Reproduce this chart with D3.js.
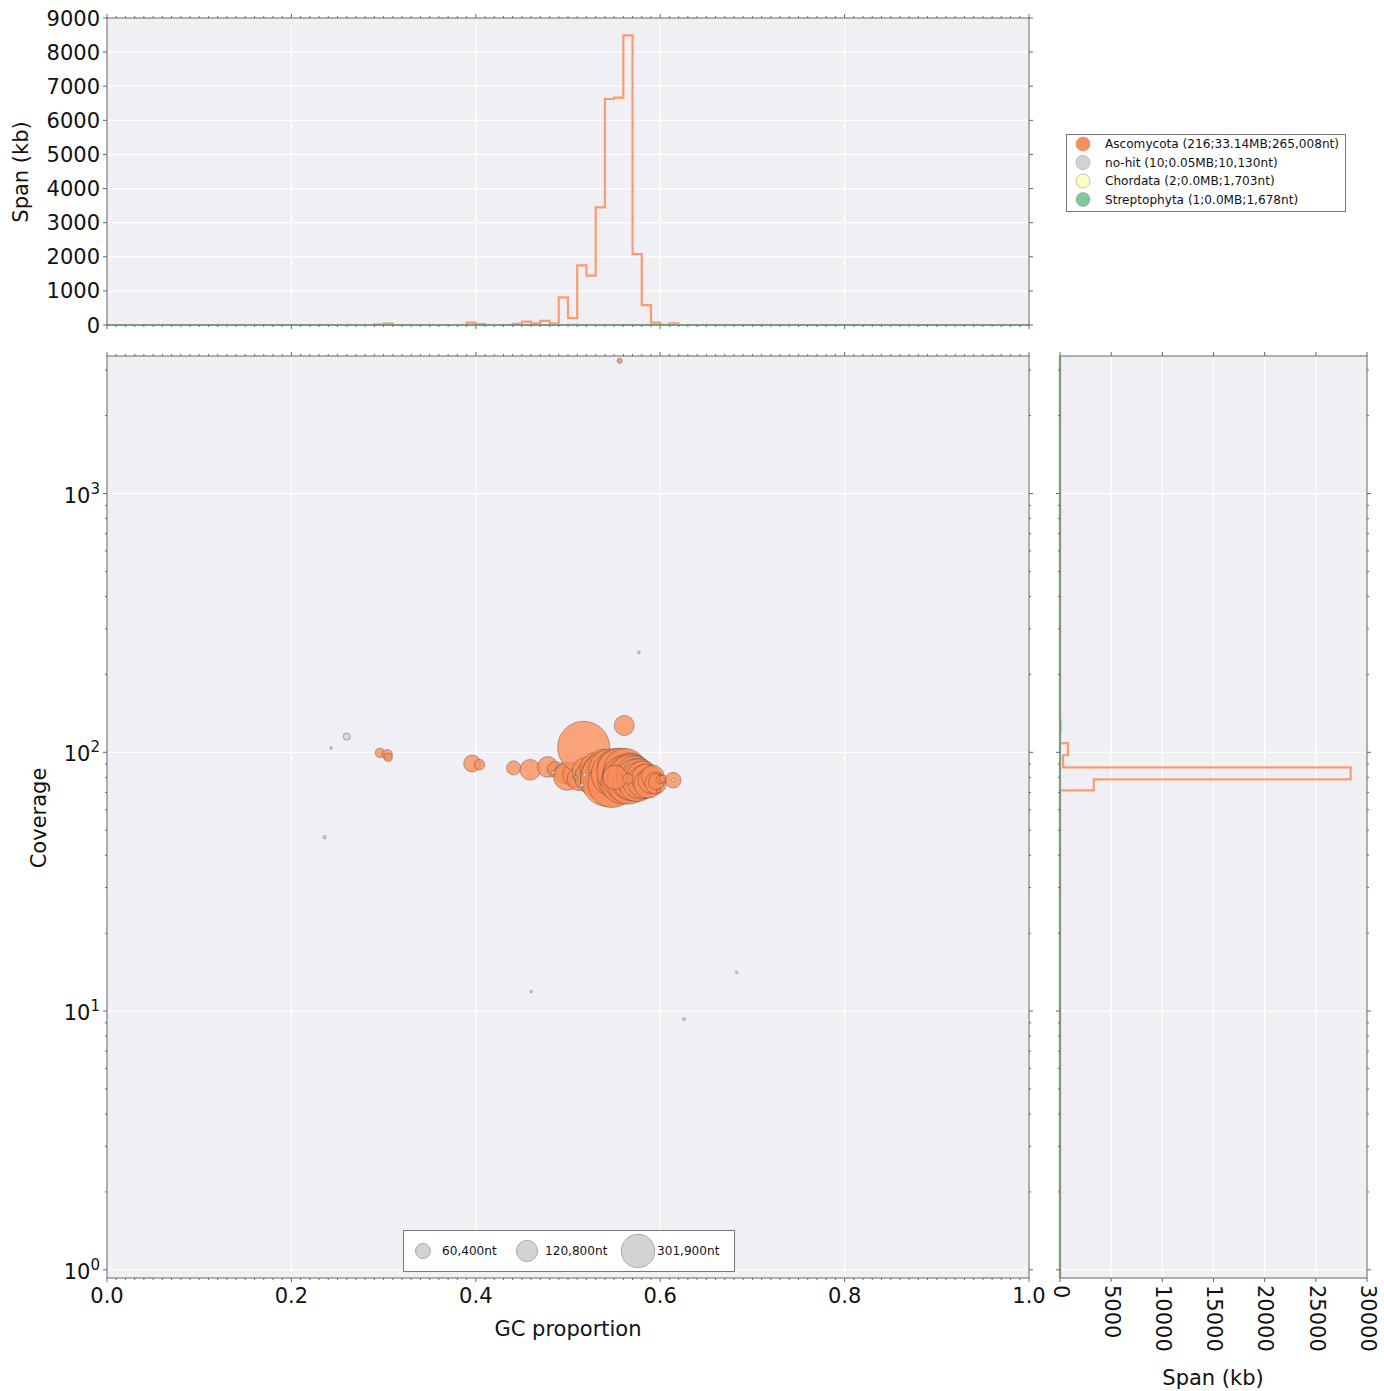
<!DOCTYPE html>
<html>
<head>
<meta charset="utf-8">
<script src="https://d3js.org/d3.v7.min.js"></script>
<style>
    body { margin: 0; background: #fff; }
    svg { font-family: "DejaVu Sans", sans-serif; }
    .grid line { stroke: #fff; stroke-width: 1.3; }
    .tick-lab { font-size: 21px; fill: #111; }
    .ax-lab { font-size: 21px; fill: #111; }
    .leg { font-size: 12.1px; fill: #111; }
</style>
</head>
<body>
<svg width="1384" height="1391"></svg>
<script>
    // taxa in plotting order
    const taxa = ["Ascomycota", "no-hit", "Chordata", "Streptophyta"];
    const taxLabels = ["Ascomycota (216;33.14MB;265,008nt)", "no-hit (10;0.05MB;10,130nt)",
                       "Chordata (2;0.0MB;1,703nt)", "Streptophyta (1;0.0MB;1,678nt)"];
    const taxColors = ["#fc8d59", "#d3d3d3", "#ffffbf", "#7fc99a"];

    // contigs: [GC, coverage, length nt]
    const ascomycota = [
        [0.296, 99.5, 7500], [0.304, 98.0, 9000], [0.305, 95.5, 5500],
        [0.396, 90.5, 24000], [0.404, 89.6, 9500], [0.441, 87.0, 17000],
        [0.459, 85.6, 36000], [0.478, 87.8, 36000], [0.486, 86.0, 20000],
        [0.497, 83.2, 40000], [0.499, 80.5, 62000], [0.508, 82.0, 55000],
        [0.512, 79.0, 48000], [0.517, 104.5, 230000], [0.520, 84.0, 70000],
        [0.525, 80.0, 90000], [0.530, 86.5, 85000], [0.533, 78.0, 110000],
        [0.536, 83.0, 125000], [0.539, 88.0, 100000], [0.541, 80.5, 140000],
        [0.544, 79.0, 265008], [0.546, 85.0, 160000], [0.548, 76.0, 200000],
        [0.550, 82.5, 175000], [0.553, 87.0, 130000], [0.555, 78.5, 150000],
        [0.557, 84.0, 190000], [0.558, 81.0, 120000], [0.560, 77.0, 170000],
        [0.561, 127.0, 34000], [0.562, 85.5, 155000], [0.563, 79.5, 185000],
        [0.565, 82.0, 140000], [0.566, 76.5, 160000], [0.568, 84.0, 120000],
        [0.569, 80.0, 175000], [0.571, 78.0, 145000], [0.572, 82.5, 110000],
        [0.574, 79.5, 130000], [0.575, 76.0, 115000], [0.577, 81.0, 100000],
        [0.579, 78.0, 120000], [0.581, 80.5, 85000], [0.583, 77.0, 95000],
        [0.585, 79.0, 75000], [0.587, 75.5, 70000], [0.590, 78.0, 58000],
        [0.592, 80.5, 45000], [0.595, 76.0, 40000], [0.596, 77.0, 22000],
        [0.551, 80.0, 50000], [0.565, 79.0, 9000], [0.598, 71.0, 1500],
        [0.600, 78.5, 6000], [0.603, 79.0, 5000], [0.614, 78.0, 21000],
        [0.556, 3260, 2200]
    ];
    const noHit = [
        [0.236, 47.0, 900], [0.243, 104.0, 400], [0.260, 115.0, 4200],
        [0.577, 243.0, 600], [0.460, 11.9, 300], [0.683, 14.1, 300],
        [0.626, 9.3, 700], [0.484, 83.5, 1200], [0.515, 74.7, 1600],
        [0.478, 84.5, 500]
    ];
    const chordata = [[0.518, 82.0, 900], [0.614, 78.0, 800]];
    const streptophyta = [[0.5085, 80.0, 1678]];

    // Ascomycota span histogram over GC (bin start, kb), bins 0.01 wide
    const gcBinStart = [0.29, 0.30, 0.39, 0.40, 0.44, 0.45, 0.46, 0.47, 0.48, 0.49, 0.50,
                        0.51, 0.52, 0.53, 0.54, 0.55, 0.56, 0.57, 0.58, 0.59, 0.60, 0.61];
    const gcBinSpan = [20, 40, 70, 25, 35, 100, 45, 120, 45, 810, 200,
                       1750, 1450, 3450, 6625, 6665, 8490, 2080, 585, 70, 5, 50];
    // Ascomycota span histogram over coverage (bin edges, kb)
    const covBinEdges = [71.3, 78.6, 87.5, 97.4, 108.5, 119.5, 132.8];
    const covBinSpan = [3300, 28400, 290, 780, 0, 60];

    const gcTicks = [0, 0.2, 0.4, 0.6, 0.8, 1.0];
    const spanTicksTop = [0, 1000, 2000, 3000, 4000, 5000, 6000, 7000, 8000, 9000];
    const spanTicksRight = [0, 5000, 10000, 15000, 20000, 25000, 30000];
    const covTicks = [1, 10, 100, 1000];
    const sizeLegend = [60400, 120800, 301900];

    const pointSets = [ascomycota, noHit, chordata, streptophyta];

    // panels
    const mainP = {l: 107, r: 1029, t: 356, b: 1278};
    const topP = {l: 107, r: 1029, t: 18, b: 325};
    const sideP = {l: 1060, r: 1367, t: 356, b: 1278};

    const x = d3.scaleLinear().domain([0, 1]).range([mainP.l, mainP.r]);
    const y = d3.scaleLog().domain([0.93, 3400]).range([mainP.b, mainP.t]);
    const yTop = d3.scaleLinear().domain([0, 9000]).range([topP.b, topP.t]);
    const xSide = d3.scaleLinear().domain([0, 30000]).range([sideP.l, sideP.r]);
    const rScale = d3.scaleSqrt().domain([0, 265008]).range([0, 28]);

    const svg = d3.select("svg");
    const bg = "#efeff4";
    const spine = "#666";

    [mainP, topP, sideP].forEach(p => {
        svg.append("rect").attr("x", p.l).attr("y", p.t)
            .attr("width", p.r - p.l).attr("height", p.b - p.t).attr("fill", bg);
    });

    // grids
    const grid = svg.append("g").attr("class", "grid");
    [0.2, 0.4, 0.6, 0.8].forEach(v => {
        grid.append("line").attr("x1", x(v)).attr("x2", x(v)).attr("y1", mainP.t).attr("y2", mainP.b);
        grid.append("line").attr("x1", x(v)).attr("x2", x(v)).attr("y1", topP.t).attr("y2", topP.b);
    });
    covTicks.forEach(v => {
        grid.append("line").attr("x1", mainP.l).attr("x2", mainP.r).attr("y1", y(v)).attr("y2", y(v));
        grid.append("line").attr("x1", sideP.l).attr("x2", sideP.r).attr("y1", y(v)).attr("y2", y(v));
    });
    spanTicksTop.slice(1, -1).forEach(v => {
        grid.append("line").attr("x1", topP.l).attr("x2", topP.r).attr("y1", yTop(v)).attr("y2", yTop(v));
    });
    spanTicksRight.slice(1, -1).forEach(v => {
        grid.append("line").attr("x1", xSide(v)).attr("x2", xSide(v)).attr("y1", sideP.t).attr("y2", sideP.b);
    });

    // scatter
    const dots = svg.append("g");
    pointSets.forEach((pts, i) => {
        dots.selectAll(null).data(pts).enter().append("circle")
            .attr("cx", d => x(d[0]))
            .attr("cy", d => y(d[1]))
            .attr("r", d => Math.max(1.2, rScale(d[2])))
            .attr("fill", taxColors[i])
            .attr("fill-opacity", 0.78)
            .attr("stroke", "#3a3a3a")
            .attr("stroke-opacity", 0.42)
            .attr("stroke-width", 0.9);
    });

    const line = d3.line();
    const hists = svg.append("g").attr("fill", "none").attr("stroke-width", 2.2).attr("stroke-opacity", 0.85);

    // top histogram (step over GC)
    const gcEdges = d3.range(101).map(i => i / 100);
    function gcStep(vals) {
        const pts = [[x(0), yTop(0)]];
        for (let i = 0; i < 100; i++) {
            pts.push([x(gcEdges[i]), yTop(vals[i])], [x(gcEdges[i + 1]), yTop(vals[i])]);
        }
        pts.push([x(1), yTop(0)]);
        return line(pts);
    }
    function gcFromPoints(pts) {
        const b = d3.bin().value(d => d[0]).domain([0, 1]).thresholds(gcEdges.slice(1, -1))(pts);
        return b.map(bin => d3.sum(bin, d => d[2]) / 1000);
    }
    const ascoGc = gcEdges.slice(0, 100).map(e => {
        const k = gcBinStart.findIndex(s => Math.abs(s - e) < 1e-6);
        return k < 0 ? 0 : gcBinSpan[k];
    });
    const gcVals = [ascoGc, gcFromPoints(noHit), gcFromPoints(chordata), gcFromPoints(streptophyta)];
    gcVals.forEach((v, i) => {
        hists.append("path").attr("d", gcStep(v)).attr("stroke", taxColors[i]);
    });

    // side histogram (step over coverage)
    function covStep(vals) {
        const e = covBinEdges;
        const pts = [[xSide(0), mainP.b], [xSide(0), y(e[0])]];
        vals.forEach((s, k) => pts.push([xSide(s), y(e[k])], [xSide(s), y(e[k + 1])]));
        pts.push([xSide(0), y(e[e.length - 1])], [xSide(0), mainP.t]);
        return line(pts);
    }
    function covFromPoints(pts) {
        const b = d3.bin().value(d => d[1]).domain([covBinEdges[0], covBinEdges[covBinEdges.length - 1]])
            .thresholds(covBinEdges.slice(1, -1))(pts);
        return b.map(bin => d3.sum(bin, d => d[2]) / 1000);
    }
    const covVals = [covBinSpan, covFromPoints(noHit), covFromPoints(chordata), covFromPoints(streptophyta)];
    covVals.forEach((v, i) => {
        hists.append("path").attr("d", covStep(v)).attr("stroke", taxColors[i]);
    });

    // spines
    [mainP, topP, sideP].forEach(p => {
        svg.append("rect").attr("x", p.l).attr("y", p.t)
            .attr("width", p.r - p.l).attr("height", p.b - p.t)
            .attr("fill", "none").attr("stroke", spine).attr("stroke-width", 1);
    });

    // ticks
    const ticks = svg.append("g").attr("stroke", spine).attr("stroke-width", 1);
    [mainP, topP].forEach(p => {
        gcEdges.forEach(v => {
            const len = gcTicks.some(t => Math.abs(t - v) < 1e-6) ? 4 : 2;
            ticks.append("line").attr("x1", x(v)).attr("x2", x(v)).attr("y1", p.b).attr("y2", p.b + len);
            ticks.append("line").attr("x1", x(v)).attr("x2", x(v)).attr("y1", p.t).attr("y2", p.t - len);
        });
    });
    spanTicksTop.forEach(v => {
        ticks.append("line").attr("x1", topP.l - 4).attr("x2", topP.l).attr("y1", yTop(v)).attr("y2", yTop(v));
        ticks.append("line").attr("x1", topP.r).attr("x2", topP.r + 4).attr("y1", yTop(v)).attr("y2", yTop(v));
    });
    spanTicksRight.forEach(v => {
        ticks.append("line").attr("x1", xSide(v)).attr("x2", xSide(v)).attr("y1", sideP.b).attr("y2", sideP.b + 4);
        ticks.append("line").attr("x1", xSide(v)).attr("x2", xSide(v)).attr("y1", sideP.t).attr("y2", sideP.t - 4);
    });
    const covMinor = y.ticks().filter(v => v >= 0.93 && v <= 3400);
    [mainP, sideP].forEach(p => {
        covMinor.forEach(v => {
            const len = covTicks.includes(v) ? 4 : 2;
            ticks.append("line").attr("x1", p.l - len).attr("x2", p.l).attr("y1", y(v)).attr("y2", y(v));
            ticks.append("line").attr("x1", p.r).attr("x2", p.r + len).attr("y1", y(v)).attr("y2", y(v));
        });
    });

    // tick labels
    const labs = svg.append("g");
    gcTicks.forEach(v => {
        labs.append("text").attr("class", "tick-lab").attr("x", x(v)).attr("y", 1303)
            .attr("text-anchor", "middle").text(d3.format(".1f")(v));
    });
    spanTicksTop.forEach(v => {
        labs.append("text").attr("class", "tick-lab").attr("x", 100).attr("y", yTop(v) + 7.5)
            .attr("text-anchor", "end").text(v);
    });
    covTicks.forEach(v => {
        const t = labs.append("text").attr("class", "tick-lab").attr("x", 100).attr("y", y(v) + 9)
            .attr("text-anchor", "end");
        t.append("tspan").text("10");
        t.append("tspan").attr("dy", -9).style("font-size", "15px").text(Math.round(Math.log10(v)));
    });
    spanTicksRight.forEach(v => {
        labs.append("text").attr("class", "tick-lab")
            .attr("transform", `translate(${xSide(v)},1285) rotate(90)`)
            .attr("dy", "0.3em").text(v);
    });

    // axis titles
    labs.append("text").attr("class", "ax-lab").attr("x", 568).attr("y", 1336)
        .attr("text-anchor", "middle").text("GC proportion");
    labs.append("text").attr("class", "ax-lab").attr("transform", "translate(46,818) rotate(-90)")
        .attr("text-anchor", "middle").text("Coverage");
    labs.append("text").attr("class", "ax-lab").attr("transform", "translate(28,172) rotate(-90)")
        .attr("text-anchor", "middle").text("Span (kb)");
    labs.append("text").attr("class", "ax-lab").attr("x", 1213).attr("y", 1385)
        .attr("text-anchor", "middle").text("Span (kb)");

    // taxon legend
    const leg = svg.append("g");
    leg.append("rect").attr("x", 1066.5).attr("y", 134.5).attr("width", 279).attr("height", 77)
        .attr("fill", "#fff").attr("stroke", "#777");
    taxa.forEach((t, i) => {
        const cy = 144 + i * 18.5;
        leg.append("circle").attr("cx", 1083).attr("cy", cy).attr("r", 7)
            .attr("fill", taxColors[i]).attr("stroke", "#999").attr("stroke-width", 0.6);
        leg.append("text").attr("class", "leg").attr("x", 1105).attr("y", cy).attr("dy", "0.35em")
            .text(taxLabels[i]);
    });

    // size legend
    const sleg = svg.append("g");
    sleg.append("rect").attr("x", 403.5).attr("y", 1230.5).attr("width", 331).attr("height", 41)
        .attr("fill", "#fff").attr("stroke", "#777");
    const sx = [423, 527, 638];
    const lx = [442, 545, 657];
    sizeLegend.forEach((s, i) => {
        sleg.append("circle").attr("cx", sx[i]).attr("cy", 1251).attr("r", rScale(s) * 0.56)
            .attr("fill", "#d3d3d3").attr("stroke", "#999").attr("stroke-width", 0.8);
        sleg.append("text").attr("class", "leg").attr("x", lx[i]).attr("y", 1251).attr("dy", "0.35em")
            .text(d3.format(",")(s) + "nt");
    });
</script>
</body>
</html>
